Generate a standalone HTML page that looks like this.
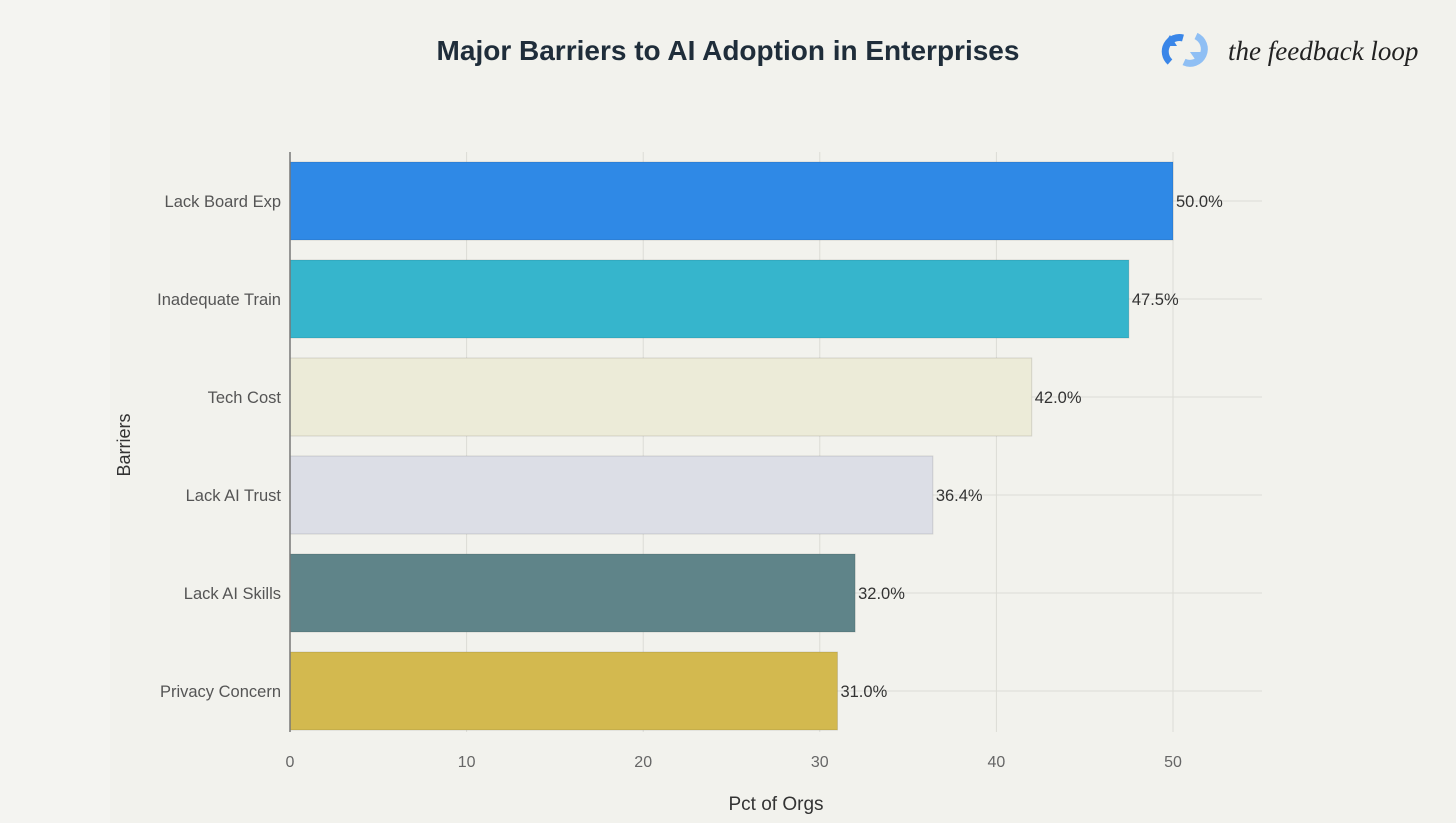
<!DOCTYPE html>
<html><head><meta charset="utf-8"><style>
html,body{margin:0;padding:0;width:1456px;height:823px;overflow:hidden;background:#f2f2ed;}
svg{display:block;font-family:"Liberation Sans",sans-serif;}
</style></head><body>
<svg id="chart" width="1456" height="823">
<rect x="0" y="0" width="1456" height="823" fill="#f2f2ed"/>
<rect x="0" y="0" width="110" height="823" fill="#f4f4f1"/>
<text x="728" y="60" text-anchor="middle" font-size="28" font-weight="bold" fill="#1f2d3a">Major Barriers to AI Adoption in Enterprises</text>
<g>
<path d="M1170 62 A14 14 0 0 1 1183 38" stroke="#3a86e8" stroke-width="7" fill="none"/>
<path d="M1196 36 A14 14 0 0 1 1184 62" stroke="#8fbff4" stroke-width="7" fill="none"/>
<path d="M1163 46 L1170 35 L1177 46 Z" fill="#3a86e8"/>
<path d="M1190 52 L1197 62 L1204 52 Z" fill="#8fbff4"/>
<text x="1228" y="60" font-family="Liberation Serif,serif" font-style="italic" font-size="27" fill="#222">the feedback loop</text>
</g>
<g id="grid"></g><g id="bars"></g>
<line x1="290" y1="152" x2="290" y2="732" stroke="#777" stroke-width="1.5"/>
<text x="130" y="445" text-anchor="middle" font-size="18" fill="#333" transform="rotate(-90 130 445)">Barriers</text>
<text x="776" y="810" text-anchor="middle" font-size="19" fill="#333">Pct of Orgs</text>
</svg>
<script>
const categories=["Lack Board Exp","Inadequate Train","Tech Cost","Lack AI Trust","Lack AI Skills","Privacy Concern"];
const values=[50.0,47.5,42.0,36.4,32.0,31.0];
const colors=["#2f89e6","#36b5cc","#ecebd8","#dcdee6","#5f8489","#d3b94f"];
const ticks=[0,10,20,30,40,50];
const NS="http://www.w3.org/2000/svg";
const x=v=>290+v*17.66;
const yTop=i=>162+i*98;
const bh=78;
function mk(t,a,p){const e=document.createElementNS(NS,t);for(const k in a)e.setAttribute(k,a[k]);p.appendChild(e);return e;}
const g=document.getElementById('grid'),b=document.getElementById('bars');
ticks.forEach(t=>{
 const l=mk('line',{x1:x(t),x2:x(t),y1:152,y2:732,stroke:'#dcdcd6','stroke-width':1},g);
 
 
 const tx=mk('text',{x:x(t),y:767,'text-anchor':'middle','font-size':16,fill:'#666'},g);
 tx.textContent=t;
 
 
});
categories.forEach((c,i)=>{
 const cy=yTop(i)+bh/2;
 const gl=mk('line',{x1:290,x2:1262,y1:cy,y2:cy,stroke:'#dcdcd6','stroke-width':1},g);
 
 
 const r=mk('rect',{x:290,y:yTop(i),width:x(values[i])-290,height:bh,fill:colors[i],stroke:'rgba(0,0,0,0.12)','stroke-width':1},b);
 
 
 const lb=mk('text',{x:281,y:cy+6,'text-anchor':'end','font-size':16.5,fill:'#555'},b);
 lb.textContent=c;
 
 
 const vl=mk('text',{x:x(values[i])+3,y:cy+6,'font-size':16.5,fill:'#333'},b);
 vl.textContent=values[i].toFixed(1)+'%';
 
 
});
</script>
</body></html>
